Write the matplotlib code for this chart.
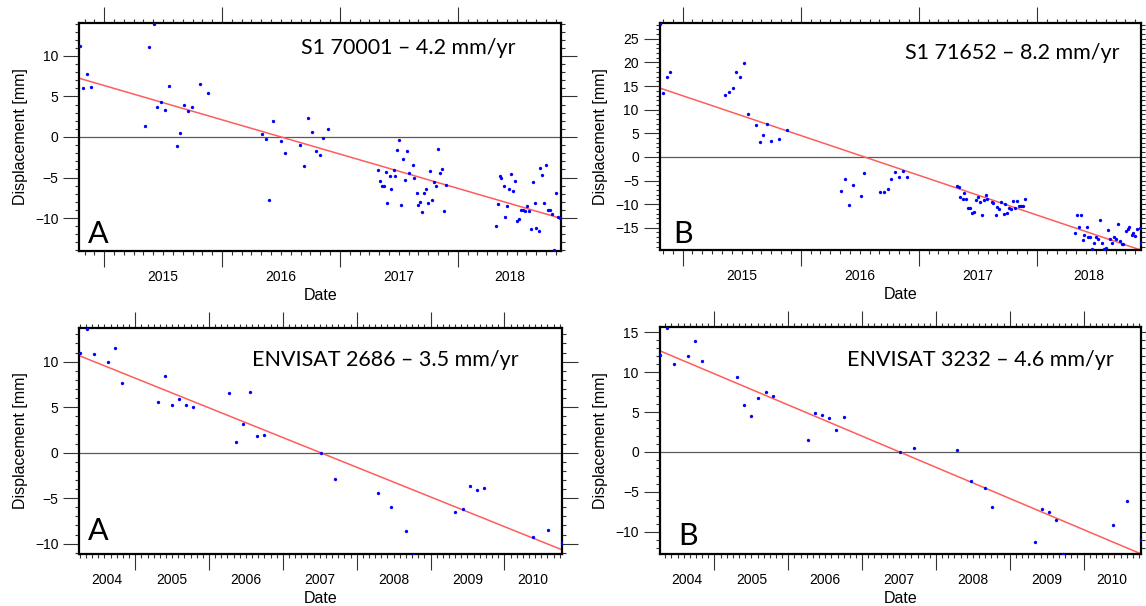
import numpy as np
import matplotlib
matplotlib.use("Agg")
import matplotlib.pyplot as plt
from matplotlib.ticker import MultipleLocator

# ---- data (decimal years, displacement in mm) ----
a_t = [2014.792, 2014.823, 2014.854, 2014.891, 2015.350, 2015.381, 2015.419, 2015.450,
       2015.481, 2015.515, 2015.546, 2015.614, 2015.645, 2015.679, 2015.713, 2015.747,
       2015.809, 2015.878,
       2016.336, 2016.371, 2016.402, 2016.436, 2016.501, 2016.535, 2016.665, 2016.699,
       2016.730, 2016.761, 2016.798, 2016.829, 2016.860, 2016.895,
       2017.322, 2017.341, 2017.357, 2017.372, 2017.388, 2017.403, 2017.422, 2017.437,
       2017.456, 2017.468, 2017.487, 2017.502, 2017.518, 2017.536, 2017.552, 2017.567,
       2017.586, 2017.617, 2017.633, 2017.651, 2017.667, 2017.682, 2017.701, 2017.716,
       2017.735, 2017.750, 2017.766, 2017.781, 2017.800, 2017.816, 2017.831, 2017.850,
       2017.865, 2017.881, 2017.899,
       2018.324, 2018.340, 2018.355, 2018.371, 2018.389, 2018.405, 2018.420, 2018.439,
       2018.454, 2018.470, 2018.488, 2018.504, 2018.519, 2018.538, 2018.553, 2018.572,
       2018.588, 2018.603, 2018.619, 2018.637, 2018.653, 2018.668, 2018.687, 2018.702,
       2018.718, 2018.736, 2018.752, 2018.767, 2018.786, 2018.802, 2018.817, 2018.833,
       2018.848, 2018.864]
a_v = [11.28, 6.01, 7.82, 6.21, 1.36, 11.07, 13.95, 3.70, 4.32, 3.33, 6.30, -1.07, 0.49,
       3.91, 3.21, 3.74, 6.50, 5.47,
       0.41, -0.29, -7.78, 2.02, -0.49, -2.02, -0.95, -3.62, 2.30, 0.62, -1.69, -2.26,
       -0.16, 0.95,
       -4.12, -5.43, -6.01, -6.01, -4.32, -8.15, -4.86, -6.38, -4.03, -4.77, -1.60, -0.41,
       -8.35, -2.67, -5.35, -1.69, -4.44, -3.42, -5.02, -6.91, -8.35, -8.07, -9.22, -6.95,
       -6.38, -8.15, -4.16, -7.82, -5.51, -6.01, -1.44, -4.44, -3.95, -9.14, -5.97,
       -10.95, -8.23, -4.77, -5.10, -6.05, -9.84, -8.52, -6.42, -4.57, -6.67, -5.47,
       -10.33, -10.08, -8.97, -8.97, -9.14, -8.52, -9.14, -11.36, -5.60, -8.15, -11.19,
       -11.56, -3.83, -4.65, -8.11, -3.50, -9.01, -8.97, -9.51, -13.95, -6.87, -9.92,
       -10.04]

b_t = [2014.805, 2014.833, 2014.864, 2014.895, 2015.356, 2015.390, 2015.424, 2015.455,
       2015.489, 2015.520, 2015.554, 2015.619, 2015.653, 2015.684, 2015.718, 2015.752,
       2015.817, 2015.885,
       2016.341, 2016.375, 2016.409, 2016.440, 2016.508, 2016.539, 2016.672, 2016.703,
       2016.737, 2016.768, 2016.802, 2016.836, 2016.867, 2016.898,
       2017.322, 2017.337, 2017.353, 2017.372, 2017.387, 2017.402, 2017.421, 2017.437,
       2017.452, 2017.467, 2017.486, 2017.502, 2017.517, 2017.536, 2017.551, 2017.567,
       2017.582, 2017.616, 2017.632, 2017.650, 2017.666, 2017.681, 2017.700, 2017.718,
       2017.734, 2017.749, 2017.765, 2017.783, 2017.799, 2017.817, 2017.833, 2017.848,
       2017.864, 2017.882, 2017.898,
       2018.322, 2018.337, 2018.353, 2018.372, 2018.387, 2018.402, 2018.421, 2018.437,
       2018.452, 2018.471, 2018.486, 2018.505, 2018.520, 2018.536, 2018.554, 2018.570,
       2018.585, 2018.604, 2018.619, 2018.638, 2018.653, 2018.669, 2018.684, 2018.703,
       2018.718, 2018.734, 2018.752, 2018.768, 2018.783, 2018.802, 2018.817, 2018.833,
       2018.851, 2018.870, 2018.879]
b_v = [28.18, 13.63, 16.95, 18.08, 13.07, 13.77, 14.55, 18.08, 16.95, 19.99, 9.11, 6.71,
       3.11, 4.66, 7.06, 3.39, 3.74, 5.65,
       -7.13, -4.66, -10.10, -6.00, -8.33, -3.32, -7.49, -7.49, -6.71, -4.59, -3.18, -4.17,
       -3.04, -4.17,
       -6.07, -6.43, -8.55, -8.83, -7.56, -8.97, -10.88, -10.88, -11.79, -11.65, -9.11,
       -8.55, -9.46, -12.36, -9.04, -7.98, -8.97, -9.46, -9.75, -12.29, -10.52, -11.09,
       -9.46, -12.15, -9.96, -11.94, -10.88, -10.95, -9.39, -10.81, -9.25, -10.38, -10.31,
       -10.31, -8.90,
       -16.17, -12.36, -14.76, -12.36, -17.58, -16.60, -14.90, -16.88, -16.88, -19.56,
       -18.15, -17.02, -17.44, -13.35, -18.15, -19.42, -19.28, -15.54, -17.37, -18.15,
       -16.88, -17.44, -14.19, -17.73, -18.43, -18.43, -15.61, -15.32, -14.76, -16.45,
       -16.10, -16.67, -15.18, -15.04, -18.29]

c_t = [2004.248, 2004.342, 2004.441, 2004.634, 2004.733, 2004.827, 2005.307, 2005.401,
       2005.500, 2005.594, 2005.688, 2005.787, 2006.267, 2006.361, 2006.455, 2006.554,
       2006.649, 2006.748, 2007.515, 2007.703, 2008.282, 2008.470, 2008.663, 2008.762,
       2009.337, 2009.436, 2009.530, 2009.629, 2009.723, 2010.391, 2010.584, 2010.777]
c_v = [10.95, 13.59, 10.88, 9.96, 11.54, 7.66, 5.60, 8.46, 5.24, 5.90, 5.24, 4.98, 6.52,
       1.21, 3.11, 6.63, 1.87, 1.94, 0.0, -2.86, -4.43, -5.97, -8.64, -11.21, -6.48,
       -6.19, -3.66, -4.14, -3.92, -9.30, -8.53, -9.93]

d_t = [2004.257, 2004.351, 2004.446, 2004.639, 2004.733, 2004.827, 2005.307, 2005.401,
       2005.500, 2005.594, 2005.693, 2005.787, 2006.267, 2006.361, 2006.460, 2006.554,
       2006.649, 2006.748, 2007.515, 2007.708, 2008.282, 2008.475, 2008.668, 2008.762,
       2009.342, 2009.436, 2009.535, 2009.629, 2009.723, 2010.396, 2010.589, 2010.772]
d_v = [12.20, 15.50, 11.03, 11.99, 13.96, 11.37, 9.40, 5.85, 4.47, 6.81, 7.52, 7.06, 1.55,
       4.85, 4.64, 4.30, 2.80, 4.39, 0.0, 0.50, 0.25, -3.59, -4.55, -6.85, -11.32, -7.10,
       -7.56, -8.52, -12.75, -9.19, -6.10, -11.07]

# linear trend end points
a_fit_t, a_fit_v = [2014.789, 2018.876], [7.24, -10.04]
b_fit_t, b_fit_v = [2014.805, 2018.879], [14.6, -19.7]
c_fit_t, c_fit_v = [2004.243, 2010.777], [10.66, -10.66]
d_fit_t, d_fit_v = [2004.257, 2010.772], [12.70, -12.75]

titles = ["S1 70001 \u2013 4.2 mm/yr", "S1 71652 \u2013 8.2 mm/yr",
          "ENVISAT 2686 \u2013 3.5 mm/yr", "ENVISAT 3232 \u2013 4.6 mm/yr"]
letters = ["A", "B", "A", "B"]

plt.rcParams['font.family'] = ['Liberation Sans', 'DejaVu Sans']

fig = plt.figure(figsize=(11.46, 6.06), dpi=100)

panels = [
    # rect, xlim, ylim, data, fit, title pos, letter pos
    ([0.0692, 0.5863, 0.4203, 0.3753], (2014.789, 2018.876), (-14.03, 14.03),
     (a_t, a_v), (a_fit_t, a_fit_v), (0.682, 0.891), (0.017, 0.034)),
    ([0.5756, 0.5875, 0.4197, 0.3741], (2014.805, 2018.879), (-19.7, 28.3),
     (b_t, b_v), (b_fit_t, b_fit_v), (0.733, 0.868), (0.029, 0.030)),
    ([0.0692, 0.0863, 0.4210, 0.3724], (2004.243, 2010.777), (-11.1, 13.7),
     (c_t, c_v), (c_fit_t, c_fit_v), (0.635, 0.860), (0.017, 0.061)),
    ([0.5756, 0.0863, 0.4197, 0.3741], (2004.257, 2010.772), (-12.75, 15.67),
     (d_t, d_v), (d_fit_t, d_fit_v), (0.667, 0.854), (0.038, 0.038)),
]

for i, (rect, xlim, ylim, (t, v), (ft, fv), tpos, lpos) in enumerate(panels):
    ax = fig.add_axes(rect)
    ax.set_xlim(*xlim)
    ax.set_ylim(*ylim)

    ax.axhline(0, color='#5a5a5a', lw=0.9, zorder=1)
    ax.plot(ft, fv, color='#ff5c5c', lw=1.1, zorder=2)
    ax.plot(t, v, 'o', color='#0000ff', ms=2.4, mew=0, zorder=3)

    ax.xaxis.set_major_locator(MultipleLocator(1))
    ax.xaxis.set_minor_locator(MultipleLocator(1 / 12))
    ax.yaxis.set_major_locator(MultipleLocator(5))
    ax.yaxis.set_minor_locator(MultipleLocator(1))
    ax.tick_params(which='both', direction='out', top=True, right=True,
                   labelbottom=False, color='#333333')
    ax.tick_params(which='major', length=11.5, width=0.8, labelsize=10, pad=3.5)
    ax.tick_params(which='minor', length=3.2, width=0.8)
    for s in ax.spines.values():
        s.set_linewidth(1.6)

    # year labels centred in the visible part of each year
    for yr in range(int(np.floor(xlim[0])), int(np.ceil(xlim[1]))):
        lo, hi = max(yr, xlim[0]), min(yr + 1, xlim[1])
        if hi - lo > 0.5:
            ax.annotate(str(yr), xy=((lo + hi) / 2, 0), xycoords=ax.get_xaxis_transform(),
                        xytext=(0, -26), textcoords='offset pixels',
                        ha='center', va='center', fontsize=10)

    ax.set_xlabel('Date', fontsize=11.5, va='center')
    ax.xaxis.set_label_coords(0.5, -45 / (rect[3] * 606))
    ax.set_ylabel('Displacement [mm]', fontsize=11.5, va='center')
    ax.yaxis.set_label_coords(-59 / (rect[2] * 1146), 0.5)

    ax.text(tpos[0], tpos[1], titles[i], transform=ax.transAxes, ha='center', va='center',
            fontsize=15.5, family=['Lato', 'DejaVu Sans'])
    ax.text(lpos[0], lpos[1], letters[i], transform=ax.transAxes, ha='left', va='baseline',
            fontsize=22, family=['Lato', 'DejaVu Sans'])

fig.savefig('out.png', dpi=100)
